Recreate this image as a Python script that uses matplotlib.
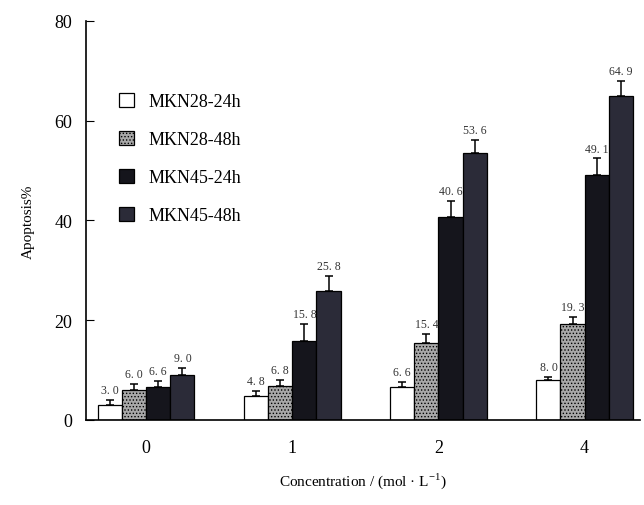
import numpy as np
import matplotlib
matplotlib.use('Agg')
import matplotlib.pyplot as plt

plt.rcParams['font.family'] = ['Liberation Serif', 'DejaVu Serif']
plt.rcParams['hatch.linewidth'] = 0.6

concentrations = ['0', '1', '2', '4']
series = ['MKN28-24h', 'MKN28-48h', 'MKN45-24h', 'MKN45-48h']

mkn28_24 = [3.0, 4.8, 6.6, 8.0]
mkn28_48 = [6.0, 6.8, 15.4, 19.3]
mkn45_24 = [6.6, 15.8, 40.6, 49.1]
mkn45_48 = [9.0, 25.8, 53.6, 64.9]

err28_24 = [1.0, 1.0, 1.0, 0.7]
err28_48 = [1.3, 1.3, 1.8, 1.4]
err45_24 = [1.3, 3.5, 3.2, 3.3]
err45_48 = [1.5, 3.0, 2.6, 3.0]

values = [mkn28_24, mkn28_48, mkn45_24, mkn45_48]
errors = [err28_24, err28_48, err45_24, err45_48]

faces = ['white', '#a8a8a8', '#15151c', '#2b2b38']
hatches = [None, '.....', None, None]

fig = plt.figure(figsize=(6.44, 5.06), dpi=100)
ax = fig.add_axes([0.134, 0.168, 0.860, 0.789])

x = np.arange(len(concentrations))
w = 0.165
for i in range(4):
    pos = x + (i - 1.5) * w
    ax.bar(pos, values[i], w, color=faces[i], edgecolor='black', linewidth=0.9,
           hatch=hatches[i], label=series[i], zorder=2)
    ax.errorbar(pos, values[i], yerr=[np.zeros(4), errors[i]], fmt='none',
                ecolor='black', elinewidth=1.1, capsize=3, capthick=1.1, zorder=3)
    for p, v, e in zip(pos, values[i], errors[i]):
        ax.text(p, v + e + 0.8, ('%.1f' % v).replace('.', '. '), ha='center',
                va='bottom', fontsize=8.5, color='#333333')

ax.set_xlim(-0.41, 3.38)
ax.set_ylim(0, 80)
ax.set_yticks([0, 20, 40, 60, 80])
ax.set_xticks(x)
ax.set_xticklabels(concentrations)
ax.tick_params(axis='y', direction='in', length=6, labelsize=13, pad=10)
ax.tick_params(axis='x', length=0, labelsize=13, pad=14)
ax.spines['top'].set_visible(False)
ax.spines['right'].set_visible(False)
ax.spines['left'].set_linewidth(1.2)
ax.spines['bottom'].set_linewidth(1.2)

ax.set_ylabel('Apoptosis%', fontsize=11, labelpad=14)
ax.set_xlabel('Concentration / (mol · L$^{\\mathregular{-1}}$)', fontsize=11, labelpad=10)

leg = ax.legend(loc='upper left', bbox_to_anchor=(0.03, 0.86), frameon=False,
                fontsize=13, handlelength=0.8, handleheight=0.8,
                handletextpad=0.8, labelspacing=1.15)

fig.savefig('out.png', dpi=100)
